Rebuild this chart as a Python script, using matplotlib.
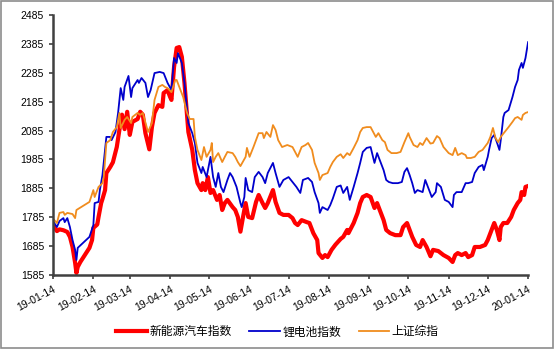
import pandas as pd
import matplotlib.pyplot as plt
import matplotlib.dates as mdates

plt.rcParams['font.family'] = ['Liberation Sans', 'Noto Sans CJK SC', 'DejaVu Sans']

START = pd.Timestamp('2019-01-14')

# days since 2019-01-14
ev_days = [1, 3, 5, 8, 11, 13, 15, 17, 18, 19, 21, 28, 30, 31, 34, 35, 37, 38, 40, 41,
           44, 46, 49, 51, 53, 55, 57, 59, 61, 65, 67, 69, 71, 74, 76, 78, 81, 84, 85, 88,
           90, 91, 93, 95, 97, 99, 101, 104, 107, 109, 111, 114, 115, 117, 119, 121, 123, 126, 128, 130,
           132, 134, 138, 140, 142, 144, 146, 148, 150, 153, 156, 158, 161, 163, 165, 169, 171, 174, 177, 181,
           184, 186, 188, 191, 195, 197, 200, 203, 204, 207, 209, 211, 214, 217, 221, 223, 226, 227, 231, 234,
           236, 238, 241, 244, 247, 249, 251, 254, 256, 259, 263, 267, 269, 272, 274, 276, 279, 282, 284, 287,
           290, 292, 296, 300, 304, 307, 309, 311, 314, 317, 319, 322, 324, 328, 332, 334, 337, 339, 341, 343,
           344, 346, 349, 352, 354, 357, 359, 360, 362, 363, 365]
ev_vals = [1751, 1737, 1743, 1740, 1734, 1717, 1682, 1627, 1592, 1613, 1630, 1679, 1706, 1748, 1760, 1786, 1834, 1848, 1879, 1938,
           1959, 1975, 2028, 2087, 2140, 2090, 2150, 2070, 2115, 2125, 2150, 2140, 2076, 2020, 2097, 2146, 2173, 2167, 2215, 2225,
           2201, 2191, 2305, 2371, 2374, 2340, 2250, 2080, 2018, 1948, 1903, 1879, 1903, 1879, 1924, 1869, 1879, 1845, 1862, 1810,
           1834, 1845, 1820, 1810, 1786, 1735, 1786, 1834, 1786, 1782, 1838, 1862, 1834, 1817, 1834, 1879, 1838, 1800, 1793, 1793,
           1782, 1765, 1758, 1775, 1768, 1765, 1730, 1706, 1661, 1644, 1654, 1647, 1672, 1690, 1710, 1717, 1741, 1730, 1765, 1800,
           1834, 1855, 1862, 1855, 1817, 1834, 1810, 1775, 1741, 1730, 1723, 1723, 1751, 1765, 1741, 1717, 1689, 1682, 1706, 1682,
           1650, 1672, 1668, 1654, 1644, 1630, 1654, 1661, 1654, 1661, 1647, 1654, 1682, 1682, 1689, 1706, 1741, 1765, 1741, 1706,
           1751, 1765, 1765, 1786, 1810, 1834, 1845, 1872, 1862, 1890, 1893]

bat_days = [1, 3, 5, 8, 9, 11, 13, 15, 17, 18, 19, 28, 31, 32, 35, 36, 38, 41, 44, 45,
            48, 50, 52, 54, 55, 58, 60, 61, 65, 66, 68, 71, 73, 75, 78, 82, 85, 88, 91, 93,
            95, 96, 99, 101, 104, 107, 109, 111, 114, 115, 118, 119, 121, 123, 125, 127, 129, 131, 134, 136,
            138, 141, 144, 145, 147, 148, 150, 153, 155, 158, 161, 163, 165, 169, 171, 174, 177, 181, 184, 187,
            190, 192, 196, 199, 201, 204, 205, 207, 211, 213, 215, 218, 221, 223, 226, 228, 231, 234, 236, 238,
            241, 244, 247, 249, 251, 254, 256, 258, 261, 265, 268, 270, 272, 274, 276, 278, 280, 284, 286, 288,
            291, 294, 295, 298, 301, 304, 307, 308, 310, 314, 317, 319, 322, 324, 327, 330, 331, 334, 335, 337,
            339, 341, 343, 344, 346, 347, 350, 353, 355, 357, 358, 360, 361, 363, 365]
bat_vals = [1765, 1751, 1772, 1782, 1768, 1782, 1751, 1706, 1672, 1637, 1679, 1717, 1758, 1834, 1838, 1879, 1931, 2063, 2063, 2052,
            2080, 2146, 2232, 2191, 2236, 2274, 2201, 2232, 2260, 2250, 2267, 2250, 2201, 2225, 2284, 2288, 2284, 2250, 2225, 2336,
            2319, 2353, 2319, 2250, 2111, 2076, 2042, 1973, 1938, 1959, 1924, 1948, 1994, 1924, 1890, 1938, 1890, 1872, 1914, 1938,
            1924, 1890, 1834, 1820, 1855, 1921, 1879, 1872, 1924, 1942, 1924, 1903, 1938, 1973, 1938, 1890, 1914, 1924, 1907, 1890,
            1869, 1914, 1921, 1907, 1872, 1834, 1800, 1820, 1810, 1827, 1850, 1890, 1895, 1869, 1890, 1845, 1890, 1938, 1973, 2011,
            2025, 2028, 1973, 2007, 1983, 1948, 1914, 1907, 1903, 1903, 1907, 1942, 1955, 1931, 1903, 1869, 1879, 1872, 1914, 1890,
            1855, 1872, 1903, 1890, 1845, 1838, 1820, 1862, 1872, 1872, 1903, 1903, 1907, 1938, 1959, 1966, 1948, 1994, 2018, 2059,
            2070, 2045, 2018, 2052, 2132, 2146, 2156, 2201, 2236, 2260, 2295, 2319, 2302, 2336, 2391]

sh_days = [1, 3, 5, 8, 9, 11, 15, 17, 18, 28, 31, 32, 35, 38, 39, 41, 44, 46, 49, 51,
           52, 55, 57, 60, 61, 65, 67, 69, 73, 76, 78, 81, 84, 86, 88, 91, 94, 95, 98, 100,
           103, 105, 108, 109, 111, 114, 116, 118, 121, 122, 123, 125, 127, 130, 132, 134, 138, 140, 142, 144,
           148, 149, 151, 154, 158, 161, 162, 164, 167, 169, 171, 173, 176, 180, 184, 186, 188, 191, 194, 196,
           199, 201, 204, 205, 207, 211, 213, 215, 218, 221, 223, 226, 228, 231, 234, 236, 238, 241, 244, 246,
           248, 250, 253, 255, 257, 260, 264, 267, 270, 273, 274, 277, 280, 282, 284, 287, 290, 292, 295, 297,
           300, 304, 307, 309, 311, 314, 317, 318, 321, 324, 327, 330, 334, 336, 338, 340, 342, 344, 347, 350,
           353, 355, 357, 360, 361, 363, 365]
sh_vals = [1775, 1765, 1800, 1803, 1793, 1800, 1796, 1782, 1810, 1838, 1879, 1855, 1890, 1903, 1924, 2042, 2052, 2080, 2097, 2146,
           2094, 2122, 2132, 2111, 2132, 2146, 2139, 2146, 2080, 2111, 2191, 2236, 2243, 2236, 2232, 2218, 2260, 2260, 2225, 2201,
           2146, 2125, 2125, 2063, 2018, 1983, 2028, 1994, 2018, 2042, 1976, 1994, 2007, 1976, 1994, 2011, 2007, 1994, 1976, 1962,
           1994, 2025, 1994, 2028, 2076, 2076, 2059, 2080, 2063, 2104, 2087, 2052, 2028, 2035, 2028, 2011, 1994, 2028, 2035, 2042,
           2018, 1973, 1938, 1914, 1931, 1938, 1959, 1976, 1994, 2003, 1990, 2007, 2000, 2025, 2052, 2080, 2094, 2097, 2097, 2080,
           2063, 2076, 2052, 2045, 2018, 2007, 2007, 2011, 2045, 2076, 2063, 2035, 2028, 2042, 2035, 2059, 2040, 2042, 2066, 2059,
           2028, 2007, 2000, 2025, 2000, 2007, 2000, 1990, 1990, 1994, 2011, 2018, 2042, 2063, 2094, 2059, 2045, 2063, 2080, 2097,
           2115, 2128, 2132, 2122, 2139, 2146, 2149]

labels = ['新能源汽车指数', '锂电池指数', '上证综指']
colors = ['#ff0000', '#0000cc', '#f08c1e']
yticks = list(range(1585, 2486, 100))
xtick_dates = ['2019-01-14', '2019-02-14', '2019-03-14', '2019-04-14', '2019-05-14', '2019-06-14', '2019-07-14',
               '2019-08-14', '2019-09-14', '2019-10-14', '2019-11-14', '2019-12-14', '2020-01-14']


def to_dates(days):
    return START + pd.to_timedelta(days, unit='D')


fig = plt.figure(figsize=(5.55, 3.49), dpi=100)
ax = fig.add_axes([0.0955, 0.212, 0.856, 0.745])

ax.plot(to_dates(ev_days), ev_vals, color=colors[0], lw=3.0, label=labels[0], solid_joinstyle='round')
ax.plot(to_dates(bat_days), bat_vals, color=colors[1], lw=1.3, label=labels[1])
ax.plot(to_dates(sh_days), sh_vals, color=colors[2], lw=1.3, label=labels[2])

ax.set_ylim(1585, 2485)
ax.set_yticks(yticks)
ax.set_xlim(START, pd.Timestamp('2020-01-14'))
ax.set_xticks(pd.to_datetime(xtick_dates))
ax.xaxis.set_major_formatter(mdates.DateFormatter('%y-%m-%d'))

for s in ['top', 'right']:
    ax.spines[s].set_visible(False)
for s in ['left', 'bottom']:
    ax.spines[s].set_color('#404040')
    ax.spines[s].set_linewidth(1.8)

ax.tick_params(axis='both', colors='#404040', labelcolor='black', labelsize=7.5, length=3, width=1.2)
plt.setp(ax.get_xticklabels(), rotation=28, ha='right', rotation_mode='anchor')

leg = fig.legend(loc='lower center', bbox_to_anchor=(0.5, 0.0), ncol=3, frameon=False,
                 prop={'family': ['Noto Sans CJK SC', 'DejaVu Sans'], 'size': 8.5},
                 handlelength=2.6, columnspacing=1.5, handletextpad=0.2)

# thin grey frame round the whole picture
fig.patches.append(plt.Rectangle((0.002, 0.003), 0.995, 0.993, transform=fig.transFigure,
                                 fill=False, edgecolor='#8c8c8c', lw=1.2))

fig.savefig('out.png', dpi=100)
